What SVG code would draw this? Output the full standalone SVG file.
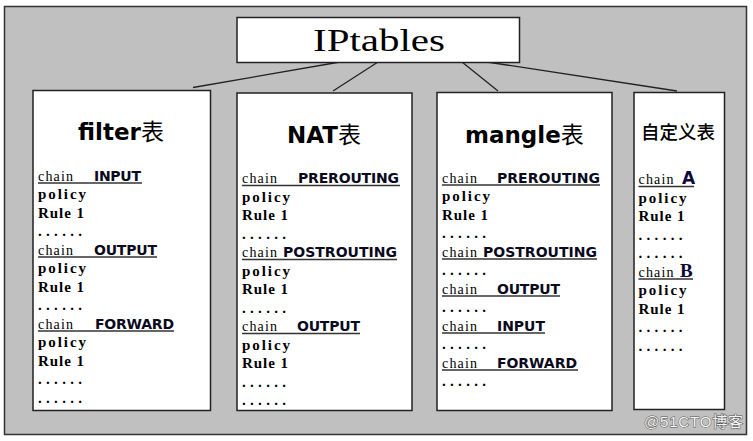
<svg xmlns="http://www.w3.org/2000/svg" width="753" height="441" viewBox="0 0 753 441">
<style>
.box{fill:#fff;stroke:#222;stroke-width:1.5}
.conn{stroke:#222;stroke-width:1.3;fill:none}
.ul{stroke:#333;stroke-width:1.5}
.ttl{font-family:"DejaVu Sans",sans-serif;font-weight:bold;font-size:23px;fill:#000}
.cjk{font-family:"Noto Sans CJK SC",sans-serif;font-weight:normal}
.ch{font-family:"Liberation Serif",serif;font-size:14px;fill:#000}
.nm{font-family:"DejaVu Sans",sans-serif;font-weight:bold;font-size:14px;fill:#0a0a1e}
.bd{font-family:"Liberation Serif",serif;font-weight:bold;font-size:15px;fill:#000}
</style>
<rect x="4.5" y="6.5" width="742" height="428" fill="#c0c0c0" stroke="#333" stroke-width="1.5"/>
<g id="connectors">
<line class="conn" x1="340" y1="62" x2="193" y2="87.5"/>
<line class="conn" x1="378" y1="62" x2="333" y2="91"/>
<line class="conn" x1="462" y1="62" x2="498" y2="91"/>
<line class="conn" x1="487" y1="62" x2="677" y2="91"/>
</g>
<g id="iptables">
<rect class="box" x="237" y="17.5" width="282.5" height="45"/>
<text x="313" y="50.5" font-family="Liberation Serif,serif" font-size="31" textLength="132" lengthAdjust="spacingAndGlyphs" fill="#000">IPtables</text>
</g>
<g id="filter">
<rect class="box" x="33" y="90.5" width="177.5" height="320"/>
<text class="ttl" x="78" y="140">filter<tspan class="cjk">表</tspan></text>
<text class="ch" x="38" y="180.5" textLength="35">chain</text><text class="nm" x="94" y="180.5" textLength="47">INPUT</text><line class="ul" x1="38" y1="183" x2="142" y2="183"/>
<text class="bd" x="38" y="199" textLength="48">policy</text>
<text class="bd" x="38" y="217.5" textLength="46">Rule 1</text>
<text class="bd" x="38" y="236" textLength="44">......</text>
<text class="ch" x="38" y="254.5" textLength="35">chain</text><text class="nm" x="94" y="254.5" textLength="63">OUTPUT</text><line class="ul" x1="38" y1="257" x2="157" y2="257"/>
<text class="bd" x="38" y="273" textLength="48">policy</text>
<text class="bd" x="38" y="291.5" textLength="46">Rule 1</text>
<text class="bd" x="38" y="310" textLength="44">......</text>
<text class="ch" x="38" y="328.5" textLength="35">chain</text><text class="nm" x="95" y="328.5" textLength="79">FORWARD</text><line class="ul" x1="38" y1="331" x2="174" y2="331"/>
<text class="bd" x="38" y="347" textLength="48">policy</text>
<text class="bd" x="38" y="365.5" textLength="46">Rule 1</text>
<text class="bd" x="38" y="384" textLength="44">......</text>
<text class="bd" x="38" y="402.5" textLength="44">......</text>
</g>
<g id="nat">
<rect class="box" x="237" y="93" width="175" height="317.5"/>
<text class="ttl" x="287" y="143">NAT<tspan class="cjk">表</tspan></text>
<text class="ch" x="242" y="183" textLength="35">chain</text><text class="nm" x="298" y="183" textLength="101">PREROUTING</text><line class="ul" x1="242" y1="185.5" x2="400" y2="185.5"/>
<text class="bd" x="242" y="201.5" textLength="48">policy</text>
<text class="bd" x="242" y="220" textLength="46">Rule 1</text>
<text class="bd" x="242" y="238.5" textLength="44">......</text>
<text class="ch" x="242" y="257" textLength="35">chain</text><text class="nm" x="283" y="257" textLength="114">POSTROUTING</text><line class="ul" x1="242" y1="259.5" x2="397" y2="259.5"/>
<text class="bd" x="242" y="275.5" textLength="48">policy</text>
<text class="bd" x="242" y="294" textLength="46">Rule 1</text>
<text class="bd" x="242" y="312.5" textLength="44">......</text>
<text class="ch" x="242" y="331" textLength="35">chain</text><text class="nm" x="297" y="331" textLength="63">OUTPUT</text><line class="ul" x1="242" y1="333.5" x2="360" y2="333.5"/>
<text class="bd" x="242" y="349.5" textLength="48">policy</text>
<text class="bd" x="242" y="368" textLength="46">Rule 1</text>
<text class="bd" x="242" y="386.5" textLength="44">......</text>
<text class="bd" x="242" y="405" textLength="44">......</text>
</g>
<g id="mangle">
<rect class="box" x="437" y="92.5" width="175" height="318"/>
<text class="ttl" x="465" y="143">mangle<tspan class="cjk">表</tspan></text>
<text class="ch" x="442" y="182.5" textLength="35">chain</text><text class="nm" x="497" y="182.5" textLength="103">PREROUTING</text><line class="ul" x1="442" y1="185" x2="600" y2="185"/>
<text class="bd" x="442" y="201" textLength="48">policy</text>
<text class="bd" x="442" y="219.5" textLength="46">Rule 1</text>
<text class="bd" x="442" y="238" textLength="44">......</text>
<text class="ch" x="442" y="256.5" textLength="35">chain</text><text class="nm" x="483" y="256.5" textLength="114">POSTROUTING</text><line class="ul" x1="442" y1="259" x2="597" y2="259"/>
<text class="bd" x="442" y="275" textLength="44">......</text>
<text class="ch" x="442" y="293.5" textLength="35">chain</text><text class="nm" x="497" y="293.5" textLength="63">OUTPUT</text><line class="ul" x1="442" y1="296" x2="560" y2="296"/>
<text class="bd" x="442" y="312" textLength="44">......</text>
<text class="ch" x="442" y="330.5" textLength="35">chain</text><text class="nm" x="497" y="330.5" textLength="48">INPUT</text><line class="ul" x1="442" y1="333" x2="545" y2="333"/>
<text class="bd" x="442" y="349" textLength="44">......</text>
<text class="ch" x="442" y="367.5" textLength="35">chain</text><text class="nm" x="497" y="367.5" textLength="80">FORWARD</text><line class="ul" x1="442" y1="370" x2="578" y2="370"/>
<text class="bd" x="442" y="386" textLength="44">......</text>
</g>
<g id="custom">
<rect class="box" x="634" y="92.5" width="90.5" height="317"/>
<text x="641" y="139" font-family="Noto Sans CJK SC,sans-serif" font-size="18.5" font-weight="500" fill="#000">自定义表</text>
<text class="ch" x="638.5" y="184" textLength="35">chain</text><text x="682" y="184" font-family="DejaVu Sans,sans-serif" font-weight="bold" font-size="17" fill="#0a0a3a" textLength="12">A</text><line class="ul" x1="638.5" y1="186.5" x2="694" y2="186.5"/>
<text class="bd" x="638.5" y="202.5" textLength="48">policy</text>
<text class="bd" x="638.5" y="221" textLength="46">Rule 1</text>
<text class="bd" x="638.5" y="239.5" textLength="44">......</text>
<text class="bd" x="638.5" y="258" textLength="44">......</text>
<text class="ch" x="638.5" y="276.5" textLength="35">chain</text><text x="680" y="276.5" font-family="Liberation Serif,serif" font-weight="bold" font-size="19" fill="#0a0a3a">B</text><line class="ul" x1="638.5" y1="279" x2="693" y2="279"/>
<text class="bd" x="638.5" y="295" textLength="48">policy</text>
<text class="bd" x="638.5" y="313.5" textLength="46">Rule 1</text>
<text class="bd" x="638.5" y="332" textLength="44">......</text>
<text class="bd" x="638.5" y="350.5" textLength="44">......</text>
</g>
<text x="644" y="427" font-family="Liberation Sans,Noto Sans CJK SC,sans-serif" font-size="15" fill="#f4f4f4" stroke="#555" stroke-width="1" paint-order="stroke" textLength="99">@51CTO博客</text>
</svg>
